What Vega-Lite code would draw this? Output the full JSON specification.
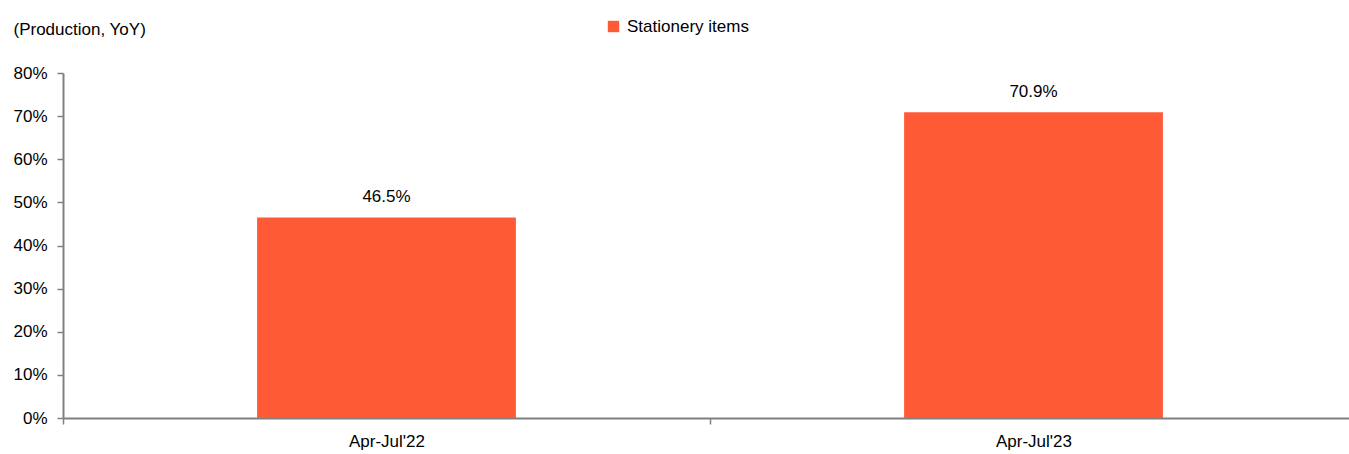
{
  "$schema": "https://vega.github.io/schema/vega-lite/v6.json",
  "autosize": "none",
  "width": 1294,
  "height": 345,
  "padding": {"left": 63, "top": 73, "right": 0, "bottom": 36},
  "background": "white",
  "config": {
    "view": {"stroke": null},
    "font": "Liberation Sans",
    "axis": {
      "domainColor": "#808080",
      "domainWidth": 2,
      "tickColor": "#808080",
      "tickWidth": 1.5,
      "tickSize": 6,
      "grid": false,
      "labelFont": "Liberation Sans",
      "labelFontSize": 17,
      "labelColor": "#000000"
    }
  },
  "data": {
    "values": [
      {"period": "Apr-Jul'22", "series": "Stationery items", "yoy": 0.465},
      {"period": "Apr-Jul'23", "series": "Stationery items", "yoy": 0.709}
    ]
  },
  "encoding": {
    "x": {
      "field": "period",
      "type": "nominal",
      "sort": null,
      "scale": {"paddingInner": 0, "paddingOuter": 0},
      "axis": {
        "title": null,
        "labelAngle": 0,
        "tickBand": "extent",
        "labelPadding": 9,
        "labelBaseline": "top"
      }
    },
    "y": {
      "field": "yoy",
      "type": "quantitative",
      "scale": {"domain": [0, 0.8], "nice": false},
      "axis": {
        "values": [0, 0.1, 0.2, 0.3, 0.4, 0.5, 0.6, 0.7, 0.8],
        "format": ".0%",
        "labelPadding": 10,
        "title": "(Production, YoY)",
        "titleAngle": 0,
        "titleAlign": "left",
        "titleBaseline": "alphabetic",
        "titleX": -50,
        "titleY": -39,
        "titleFont": "Liberation Sans",
        "titleFontSize": 17,
        "titleFontWeight": "normal",
        "titleColor": "#000000"
      }
    }
  },
  "layer": [
    {
      "mark": {"type": "bar", "width": {"band": 0.4}},
      "encoding": {
        "color": {
          "field": "series",
          "type": "nominal",
          "scale": {"range": ["#FF5A36"]},
          "legend": {
            "title": null,
            "orient": "none",
            "legendX": 542,
            "legendY": -55,
            "symbolType": "square",
            "symbolSize": 130,
            "symbolStrokeWidth": 0,
            "labelFont": "Liberation Sans",
            "labelFontSize": 17,
            "labelColor": "#000000",
            "labelOffset": 5
          }
        }
      }
    },
    {
      "mark": {"type": "text", "baseline": "bottom", "dy": -11, "fontSize": 17, "font": "Liberation Sans", "color": "#000000"},
      "encoding": {
        "text": {"field": "yoy", "type": "quantitative", "format": ".1%"}
      }
    }
  ]
}
